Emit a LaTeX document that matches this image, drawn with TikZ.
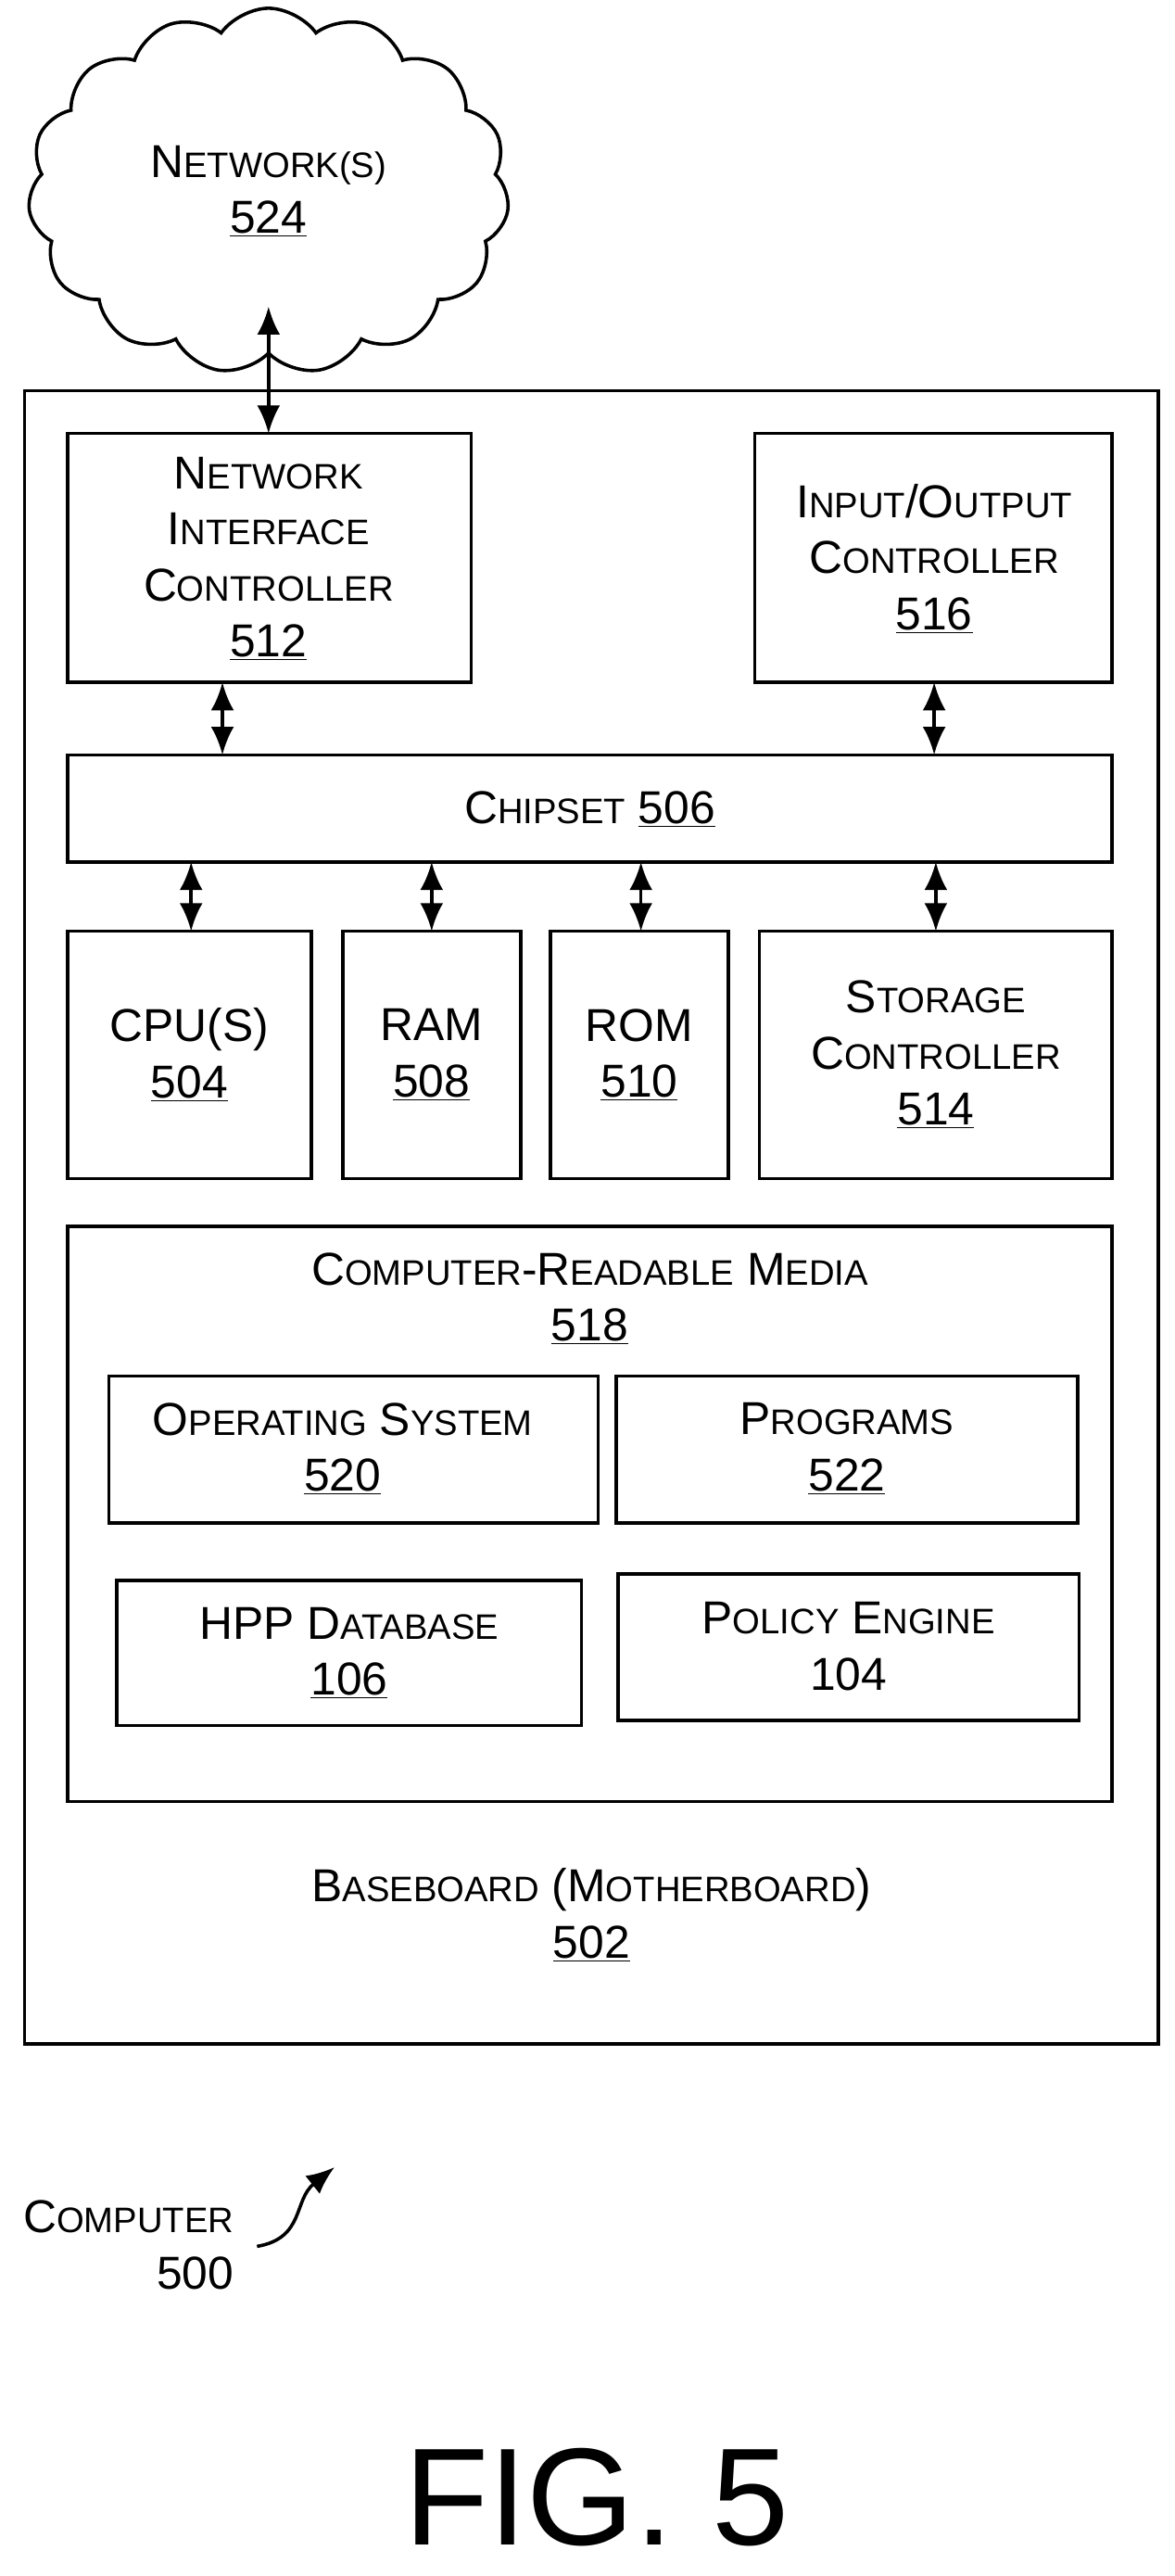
\documentclass[tikz,border=0pt]{standalone}
\usepackage{fontspec}
\setmainfont{Liberation Sans}
\usetikzlibrary{arrows.meta, shapes.symbols}
\tikzset{>={Latex[length=17pt,width=14pt]}}
\newcommand{\SC}[2]{#1{\fontsize{21.5}{24}\selectfont\MakeUppercase{#2}}}
\begin{document}
\begin{tikzpicture}[x=1pt, y=-1pt, line width=2pt,
    box/.style={draw, rectangle},
    lbl/.style={align=center, font=\fontsize{28}{34}\selectfont},
    link/.style={<->, line width=2pt}]
    \useasboundingbox (0,0) rectangle (713,1563);

    % cloud
    \node[cloud, draw, cloud puffs=15, cloud puff arc=110, aspect=1.4,
          minimum width=292pt, minimum height=222pt, lbl] (net) at (163,116)
          {\SC{N}{etwork(s)}\\\underline{524}};

    % baseboard
    \draw (15,237) rectangle (703,1240);
    \node[lbl] (base) at (359,1162) {\SC{B}{aseboard} (\SC{M}{otherboard})\\\underline{502}};

    % top row
    \draw (41,263) rectangle (286,414);
    \node[lbl] (nic) at (163,339) {\SC{N}{etwork}\\\SC{I}{nterface}\\\SC{C}{ontroller}\\\underline{512}};
    \draw (458,263) rectangle (675,414);
    \node[lbl] (io) at (567,339) {\SC{I}{nput}/\SC{O}{utput}\\\SC{C}{ontroller}\\\underline{516}};

    \draw (41,458) rectangle (675,523);
    \node[lbl] (chip) at (358,491) {\SC{C}{hipset} \underline{506}};

    % middle row
    \draw (41,565) rectangle (189,715);
    \node[lbl] (cpu) at (115,640) {CPU(S)\\\underline{504}};
    \draw (208,565) rectangle (316,715);
    \node[lbl] (ram) at (262,640) {RAM\\\underline{508}};
    \draw (334,565) rectangle (442,715);
    \node[lbl] (rom) at (388,640) {ROM\\\underline{510}};
    \draw (461,565) rectangle (675,715);
    \node[lbl] (stor) at (568,640) {\SC{S}{torage}\\\SC{C}{ontroller}\\\underline{514}};

    % media
    \draw (41,744) rectangle (675,1093);
    \node[lbl] (crm) at (358,788) {\SC{C}{omputer}-\SC{R}{eadable} \SC{M}{edia}\\\underline{518}};
    \draw (66,835) rectangle (363,924);
    \node[lbl] (os) at (208,879) {\SC{O}{perating} \SC{S}{ystem}\\\underline{520}};
    \draw (374,835) rectangle (654,924);
    \node[lbl] (prog) at (514,879) {\SC{P}{rograms}\\\underline{522}};
    \draw (71,959) rectangle (353,1047);
    \node[lbl] (hpp) at (212,1003) {HPP \SC{D}{atabase}\\\underline{106}};
    \draw (375,955) rectangle (655,1044);
    \node[lbl] (pol) at (515,999) {\SC{P}{olicy} \SC{E}{ngine}\\104};

    % connectors
    \draw[link] (163,186) -- (163,263);
    \draw[link] (135,414) -- (135,458);
    \draw[link] (567,414) -- (567,458);
    \foreach \x in {116,262,389,568}
        \draw[link] (\x,523) -- (\x,565);

    % label
    \node[lbl, align=right] (comp) at (78,1362) {\SC{C}{omputer}\\500};
    \draw[->] (156,1363) .. controls (185,1358) and (178,1335) .. (203,1315);

    \node[font=\fontsize{84}{96}\selectfont] (fig) at (362,1515) {FIG. 5};
\end{tikzpicture}
\end{document}
